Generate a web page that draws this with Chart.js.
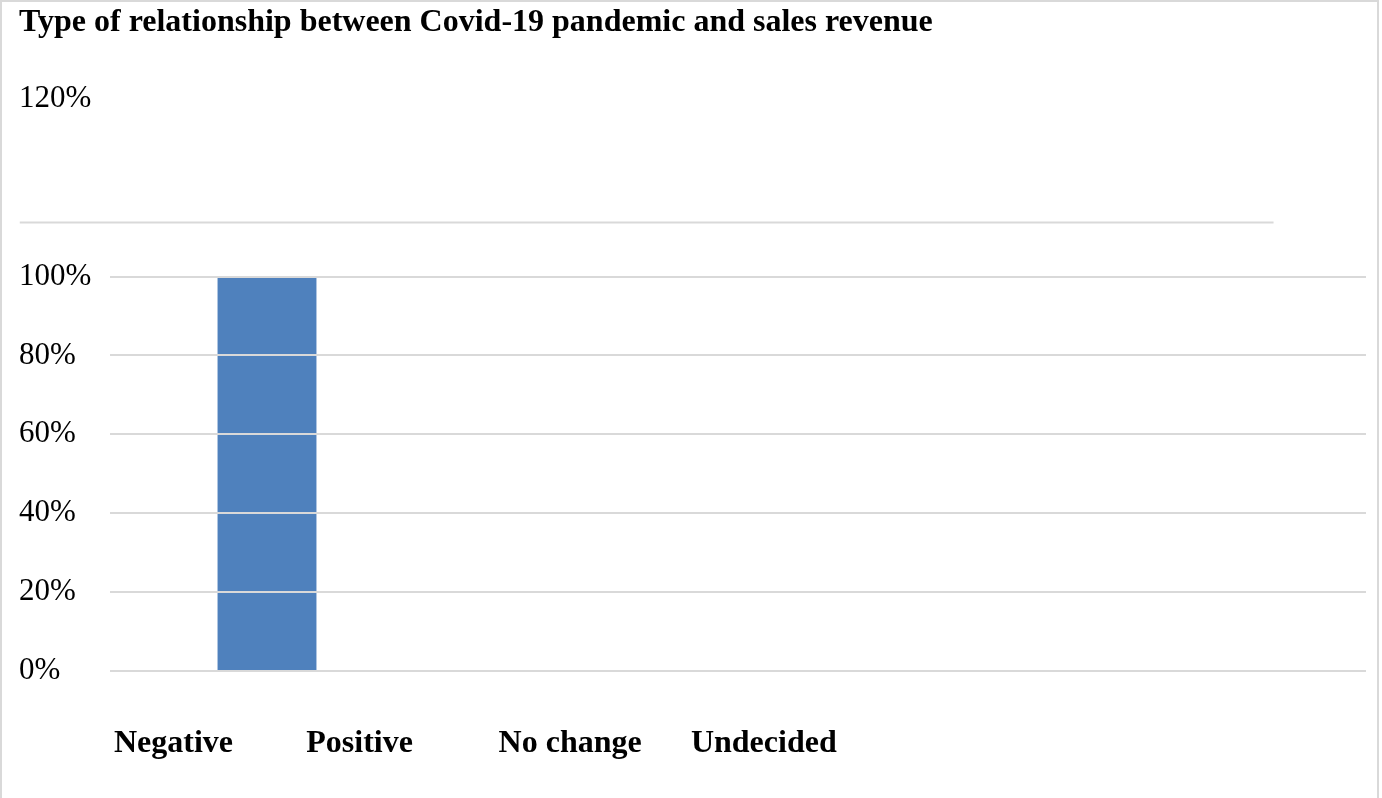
<!DOCTYPE html>
<html>
<head>
<meta charset="utf-8">
<title>Type of relationship between Covid-19 pandemic and sales revenue</title>
<script src="https://cdn.jsdelivr.net/npm/chart.js@4/dist/chart.umd.min.js"></script>
<style>
  html, body { margin: 0; padding: 0; background: #ffffff; }
  #wrap { position: relative; width: 1382px; height: 798px; }
  #wrap canvas { position: absolute; left: 0; top: 0; }
  #frame {
    position: absolute; left: 0; top: 0; width: 1379px; height: 798px;
    box-sizing: border-box; border: 2px solid #d9d9d9; border-bottom: none;
    pointer-events: none;
  }
</style>
</head>
<body>
<div id="wrap">
  <canvas id="chart" width="1382" height="798"></canvas>
  <div id="frame"></div>
</div>
<script>
// Survey answers and their shares (percent of respondents)
const categories = ['Negative', 'Positive', 'No change', 'Undecided'];
const shares = [100, 0, 0, 0];

// Value-axis ticks
const yTickValues = [0, 20, 40, 60, 80, 100];
const topTickValue = 145;
const topTickLabel = '120%';

// Stray rule drawn across the upper part of the plot
const ruleValue = 113.7;
const ruleSpan = [-0.49, 6.03];

const serif = '"Liberation Serif", "Times New Roman", serif';

new Chart(document.getElementById('chart'), {
  type: 'bar',
  data: {
    labels: categories,
    datasets: [
      {
        type: 'bar',
        data: shares,
        backgroundColor: '#4f81bd',
        borderWidth: 0,
        grouped: false,
        barPercentage: 0.315,
        categoryPercentage: 1,
        xAxisID: 'x',
        yAxisID: 'y',
        order: 1
      },
      {
        type: 'line',
        data: ruleSpan.map(x => ({ x: x, y: ruleValue })),
        xAxisID: 'x2',
        yAxisID: 'y',
        borderColor: '#d9d9d9',
        borderWidth: 2,
        pointRadius: 0,
        fill: false,
        clip: false,
        order: 2
      }
    ]
  },
  options: {
    responsive: false,
    animation: false,
    events: [],
    layout: { padding: { top: 4, left: 19, right: 16, bottom: 0 } },
    plugins: {
      legend: { display: false },
      tooltip: { enabled: false },
      title: {
        display: true,
        text: 'Type of relationship between Covid-19 pandemic and sales revenue',
        align: 'start',
        color: '#000000',
        font: { family: serif, size: 32, weight: 'bold', lineHeight: 1.2 },
        padding: { top: 0, bottom: 56.6 }
      }
    },
    scales: {
      x: {
        type: 'category',
        display: false,
        offset: true
      },
      x2: {
        type: 'linear',
        position: 'bottom',
        offset: false,
        min: -0.0208,
        max: 6.5107,
        grid: { display: false, drawTicks: false, tickLength: 0, offset: false },
        border: { display: false },
        afterBuildTicks(axis) {
          axis.ticks = categories.map((_, i) => ({ value: i }));
        },
        afterFit(axis) { axis.height = 127; },
        ticks: {
          align: 'start',
          padding: 54,
          autoSkip: false,
          maxRotation: 0,
          minRotation: 0,
          color: '#000000',
          font: { family: serif, size: 32, weight: 'bold', lineHeight: 1.2 },
          callback: (v) => (categories[v] !== undefined ? categories[v] : '')
        }
      },
      y: {
        position: 'left',
        min: 0,
        max: topTickValue,
        grid: {
          color: (c) => (c.tick && c.tick.value === topTickValue ? 'rgba(0,0,0,0)' : '#d9d9d9'),
          lineWidth: 2,
          drawTicks: false,
          tickLength: 0,
          z: 1
        },
        border: { display: false },
        afterBuildTicks(axis) {
          axis.ticks = yTickValues.concat([topTickValue]).map(v => ({ value: v }));
        },
        afterFit(axis) { axis.width = 91; },
        ticks: {
          crossAlign: 'far',
          padding: 0,
          autoSkip: false,
          color: '#000000',
          font: { family: serif, size: 31, lineHeight: 1.2 },
          callback: (v) => (v === topTickValue ? topTickLabel : v + '%')
        }
      }
    }
  }
});
</script>
</body>
</html>
